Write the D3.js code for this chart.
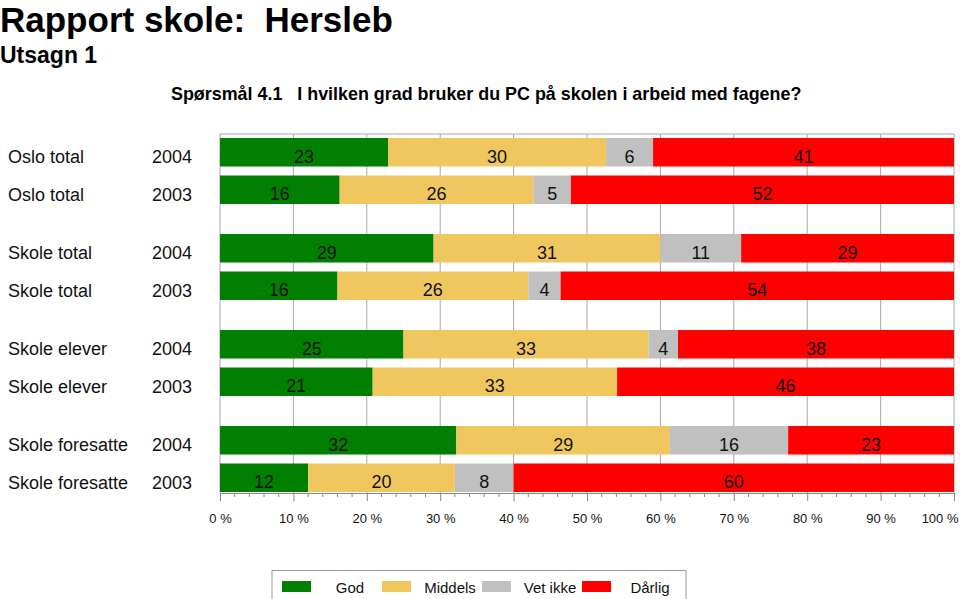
<!DOCTYPE html>
<html><head><meta charset="utf-8">
<script src="https://cdn.jsdelivr.net/npm/d3@7"></script>
<style>
body{margin:0;background:#fff;}
svg{display:block;font-family:"Liberation Sans",Arial,Helvetica,sans-serif;}
</style></head>
<body>
<svg id="chart" width="960" height="599"></svg>
<script>
const groups = ["Oslo total","Oslo total","Skole total","Skole total","Skole elever","Skole elever","Skole foresatte","Skole foresatte"];
const years = ["2004","2003","2004","2003","2004","2003","2004","2003"];
const god     = [22.9, 16.3, 29.1, 16.0, 25.0, 20.8, 32.2, 12.0];
const middels = [29.7, 26.4, 30.9, 26.0, 33.4, 33.3, 29.1, 20.0];
const vetIkke = [6.4, 5.1, 11.0, 4.4, 4.0, 0, 16.1, 8.0];
const darlig  = [41.0, 52.2, 29.0, 53.6, 37.6, 45.9, 22.6, 60.0];
const seriesNames = ["God","Middels","Vet ikke","Dårlig"];
const colors = ["#007f00","#efc75e","#c0c0c0","#ff0000"];
const xTicks = [0,10,20,30,40,50,60,70,80,90,100];

(function(){
const rows = groups.map((g,i)=>({group:g, year:years[i], "God":god[i], "Middels":middels[i], "Vet ikke":vetIkke[i], "Dårlig":darlig[i]}));
const svg = d3.select("#chart");

// titles
svg.append("text").attr("x",0).attr("y",32).attr("font-size",35).attr("font-weight","bold").style("white-space","pre").text("Rapport skole:  Hersleb");
svg.append("text").attr("x",0).attr("y",63).attr("font-size",23).attr("font-weight","bold").text("Utsagn 1");
svg.append("text").attr("x",171).attr("y",100).attr("font-size",17.9).attr("font-weight","bold").style("white-space","pre").text("Spørsmål 4.1   I hvilken grad bruker du PC på skolen i arbeid med fagene?");

const pL=220, pR=954, pT=134, pB=493;
const x = d3.scaleLinear().domain([0,100]).range([pL,pR]);
const groupNames = Array.from(new Set(groups));
const yOuter = d3.scaleBand().domain(groupNames).range([138,492]).paddingInner(0.3125).paddingOuter(0);
const yInner = d3.scaleBand().domain(["2004","2003"]).range([0,yOuter.bandwidth()]).paddingInner(0.24).paddingOuter(0);
const yPos = d => yOuter(d.group)+yInner(d.year);
const bh = yInner.bandwidth();

// grid
svg.append("g").selectAll("line").data(xTicks).join("line")
  .attr("x1",d=>x(d)).attr("x2",d=>x(d)).attr("y1",pT).attr("y2",pB)
  .attr("stroke","#a8a8a8").attr("stroke-width",1);
svg.append("line").attr("x1",pL).attr("x2",pR).attr("y1",pT).attr("y2",pT).attr("stroke","#a8a8a8");

// bars
const stack = d3.stack().keys(seriesNames)(rows);
const layer = svg.append("g").selectAll("g").data(stack).join("g").attr("fill",(d,i)=>colors[i]);
layer.selectAll("rect").data(d=>d.map(p=>({p, row:p.data}))).join("rect")
  .attr("x",d=>x(d.p[0])).attr("width",d=>x(d.p[1])-x(d.p[0]))
  .attr("y",d=>yPos(d.row)).attr("height",bh);
// labels
const lab = svg.append("g").attr("font-size",18).attr("text-anchor","middle").attr("fill","#111");
stack.forEach(s=>{
  s.forEach(p=>{
    const v = p[1]-p[0];
    if (v<=0) return;
    lab.append("text").attr("x",(x(p[0])+x(p[1]))/2).attr("y",yPos(p.data)+bh/2+10.5).text(Math.round(v));
  });
});

// y labels
const yl = svg.append("g").attr("font-size",18).attr("fill","#111");
rows.forEach(r=>{
  yl.append("text").attr("x",8).attr("y",yPos(r)+bh/2+11).text(r.group);
  yl.append("text").attr("x",152).attr("y",yPos(r)+bh/2+11).text(r.year);
});

// x axis
const axis = d3.axisBottom(x).tickValues(xTicks).tickSize(8).tickFormat(d=>d+" %");
const ag = svg.append("g").attr("transform",`translate(0,${pB})`).call(axis);
ag.select(".domain").attr("stroke","#888");
ag.selectAll(".tick line").attr("stroke","#888");
ag.selectAll(".tick text").attr("font-size",13).attr("font-family","'Liberation Sans',Arial,sans-serif").attr("fill","#111").attr("dy","1.45em");
ag.selectAll(".tick text").filter(d=>d===100).attr("text-anchor","end").attr("x",4);
const minor = d3.range(0,101,2).filter(v=>v%10!==0);
svg.append("g").selectAll("line").data(minor).join("line")
  .attr("x1",d=>x(d)).attr("x2",d=>x(d)).attr("y1",pB).attr("y2",pB+4).attr("stroke","#888");

// legend
const lg = svg.append("g");
lg.append("rect").attr("x",272).attr("y",570.5).attr("width",414).attr("height",40).attr("fill","none").attr("stroke","#999");
seriesNames.forEach((n,i)=>{
  lg.append("rect").attr("x",282+100*i).attr("y",581).attr("width",29).attr("height",11).attr("fill",colors[i]);
  lg.append("text").attr("x",350+100*i).attr("y",593).attr("font-size",15).attr("text-anchor","middle").attr("fill","#111").text(n);
});
})();
</script>
</body></html>
